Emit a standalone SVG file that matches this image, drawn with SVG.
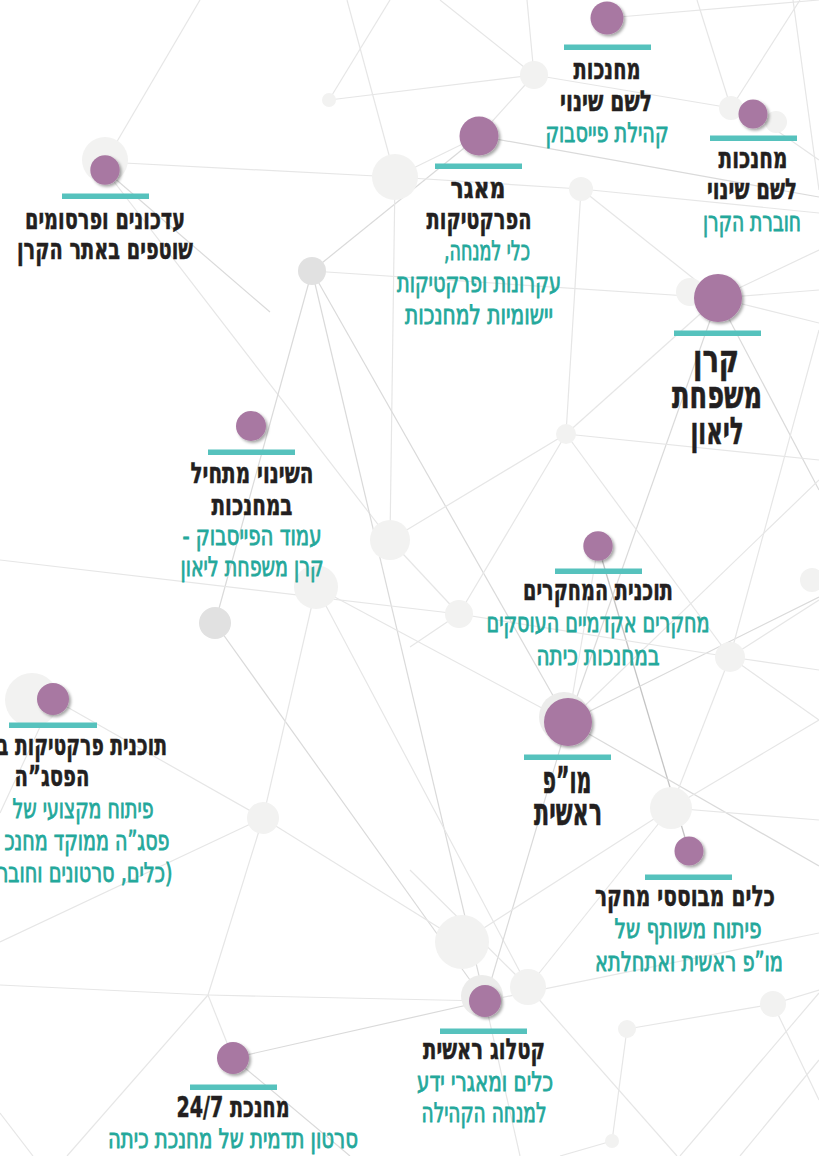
<svg xmlns="http://www.w3.org/2000/svg" width="819" height="1156" viewBox="0 0 819 1156">
<defs>
<filter id="sh" x="-40%" y="-40%" width="180%" height="180%">
<feDropShadow dx="2" dy="2" stdDeviation="1.6" flood-color="#000" flood-opacity="0.35"/>
</filter>
<style>
.ln{stroke:#e6e6e6;stroke-width:1.2;fill:none}
.ld{stroke:#dadada;stroke-width:1.2;fill:none}
.lx{stroke:#c4c4c4;stroke-width:1.3;fill:none}
.bg{fill:#f2f2f1}
.bd{fill:#e1e1e1}
.hl{fill:#ececeb}
.dot{fill:#a878a2;filter:url(#sh)}
.bar{fill:#56c2bd}
text{font-family:"DejaVu Sans Condensed","DejaVu Sans",sans-serif;direction:rtl;text-anchor:middle}
.k{font-weight:bold;font-size:29px;fill:#231f20;stroke:#231f20;stroke-width:0.5}
.g{font-weight:bold;font-size:38px;fill:#231f20;stroke:#231f20;stroke-width:0.6}
.c{font-weight:normal;font-size:27px;fill:#24a89b;stroke:#24a89b;stroke-width:0.8}
</style>
</defs>
<rect width="819" height="1156" fill="#ffffff"/>
<g id="connectors">
<line class="ln" x1="329" y1="100" x2="390" y2="0"/>
<line class="ln" x1="329" y1="100" x2="534" y2="75"/>
<line class="ln" x1="105" y1="162" x2="200" y2="0"/>
<line class="ln" x1="105" y1="162" x2="395" y2="177"/>
<line class="ln" x1="347" y1="0" x2="395" y2="177"/>
<line class="ld" x1="312" y1="271" x2="479" y2="136"/>
<line class="ln" x1="312" y1="271" x2="718" y2="298"/>
<line class="ln" x1="395" y1="177" x2="390" y2="540"/>
<line class="ld" x1="105" y1="170" x2="270" y2="312"/>
<line class="ln" x1="105" y1="170" x2="390" y2="540"/>
<line class="ld" x1="312" y1="271" x2="215" y2="623"/>
<line class="ld" x1="312" y1="271" x2="485" y2="1001"/>
<line class="ld" x1="312" y1="271" x2="568" y2="722"/>
<line class="ld" x1="215" y1="623" x2="485" y2="1001"/>
<line class="ln" x1="316" y1="587" x2="263" y2="818"/>
<line class="ln" x1="316" y1="587" x2="568" y2="722"/>
<line class="ln" x1="316" y1="587" x2="528" y2="987"/>
<line class="ln" x1="263" y1="818" x2="0" y2="942"/>
<line class="ln" x1="263" y1="818" x2="208" y2="995"/>
<line class="ln" x1="208" y1="995" x2="0" y2="985"/>
<line class="ln" x1="208" y1="995" x2="485" y2="1001"/>
<line class="ln" x1="208" y1="995" x2="233" y2="1058"/>
<line class="ln" x1="208" y1="995" x2="67" y2="1156"/>
<line class="ln" x1="263" y1="818" x2="462" y2="942"/>
<line class="ln" x1="53" y1="699" x2="263" y2="818"/>
<line class="ln" x1="53" y1="699" x2="0" y2="813"/>
<line class="ln" x1="0" y1="1113" x2="33" y2="1156"/>
<line class="ld" x1="233" y1="1058" x2="485" y2="1001"/>
<line class="ld" x1="233" y1="1058" x2="350" y2="1156"/>
<line class="ld" x1="485" y1="1001" x2="568" y2="722"/>
<line class="ln" x1="485" y1="1001" x2="819" y2="933"/>
<line class="ln" x1="528" y1="987" x2="677" y2="1156"/>
<line class="ln" x1="485" y1="1001" x2="520" y2="1156"/>
<line class="ln" x1="627" y1="1029" x2="773" y2="1004"/>
<line class="ln" x1="627" y1="1029" x2="612" y2="1141"/>
<line class="ln" x1="773" y1="1004" x2="819" y2="990"/>
<line class="ln" x1="773" y1="1004" x2="819" y2="1100"/>
<line class="ln" x1="819" y1="993" x2="680" y2="1156"/>
<line class="ln" x1="612" y1="1141" x2="560" y2="1156"/>
<line class="ln" x1="819" y1="1060" x2="740" y2="1156"/>
<line class="ln" x1="534" y1="75" x2="527" y2="0"/>
<line class="ln" x1="534" y1="75" x2="731" y2="108"/>
<line class="ln" x1="534" y1="75" x2="479" y2="136"/>
<line class="ln" x1="534" y1="75" x2="440" y2="0"/>
<line class="ln" x1="607" y1="18" x2="819" y2="0"/>
<line class="ld" x1="479" y1="136" x2="819" y2="197"/>
<line class="ln" x1="395" y1="177" x2="581" y2="189"/>
<line class="ln" x1="395" y1="177" x2="479" y2="136"/>
<line class="ln" x1="581" y1="189" x2="566" y2="434"/>
<line class="ln" x1="581" y1="189" x2="819" y2="213"/>
<line class="ln" x1="581" y1="189" x2="718" y2="298"/>
<line class="ln" x1="731" y1="108" x2="800" y2="0"/>
<line class="ln" x1="731" y1="108" x2="697" y2="0"/>
<line class="ln" x1="793" y1="0" x2="819" y2="190"/>
<line class="ln" x1="753" y1="114" x2="819" y2="160"/>
<line class="ln" x1="718" y1="298" x2="566" y2="434"/>
<line class="ld" x1="718" y1="298" x2="568" y2="722"/>
<line class="ld" x1="718" y1="298" x2="819" y2="490"/>
<line class="ln" x1="718" y1="298" x2="819" y2="323"/>
<line class="ln" x1="718" y1="298" x2="819" y2="290"/>
<line class="ln" x1="718" y1="298" x2="819" y2="250"/>
<line class="ln" x1="566" y1="434" x2="819" y2="460"/>
<line class="ln" x1="566" y1="434" x2="459" y2="614"/>
<line class="ln" x1="566" y1="434" x2="730" y2="657"/>
<line class="ln" x1="566" y1="434" x2="390" y2="540"/>
<line class="ln" x1="390" y1="540" x2="459" y2="614"/>
<line class="ln" x1="459" y1="614" x2="410" y2="647"/>
<line class="lx" x1="598" y1="546" x2="689" y2="851"/>
<line class="ld" x1="568" y1="722" x2="819" y2="597"/>
<line class="ld" x1="568" y1="722" x2="819" y2="866"/>
<line class="ln" x1="568" y1="722" x2="598" y2="546"/>
<line class="ln" x1="459" y1="614" x2="730" y2="657"/>
<line class="ln" x1="730" y1="657" x2="819" y2="600"/>
<line class="ln" x1="730" y1="657" x2="819" y2="720"/>
<line class="ln" x1="730" y1="657" x2="819" y2="670"/>
<line class="ln" x1="730" y1="657" x2="671" y2="808"/>
<line class="ln" x1="730" y1="657" x2="819" y2="330"/>
<line class="ln" x1="819" y1="720" x2="671" y2="808"/>
<line class="ln" x1="819" y1="480" x2="568" y2="722"/>
<line class="ln" x1="671" y1="808" x2="462" y2="942"/>
<line class="ln" x1="671" y1="808" x2="528" y2="987"/>
<line class="ln" x1="671" y1="808" x2="819" y2="820"/>
<line class="ln" x1="459" y1="614" x2="0" y2="560"/>
<line class="ln" x1="410" y1="870" x2="528" y2="987"/>
</g>
<g id="background-dots">
<circle class="bg" cx="329" cy="100" r="7"/>
<circle class="bg" cx="395" cy="177" r="23"/>
<circle class="bd" cx="312" cy="271" r="14"/>
<circle class="bg" cx="105" cy="160" r="23"/>
<circle class="bg" cx="534" cy="75" r="14"/>
<circle class="bg" cx="581" cy="189" r="12"/>
<circle class="bg" cx="731" cy="108" r="12"/>
<circle class="bg" cx="776" cy="122" r="11"/>
<circle class="bg" cx="690" cy="292" r="14"/>
<circle class="bg" cx="566" cy="434" r="10"/>
<circle class="bg" cx="390" cy="540" r="20"/>
<circle class="bg" cx="316" cy="587" r="22"/>
<circle class="bd" cx="215" cy="623" r="16"/>
<circle class="bg" cx="263" cy="818" r="16"/>
<circle class="bg" cx="459" cy="614" r="14"/>
<circle class="bg" cx="730" cy="657" r="15"/>
<circle class="bg" cx="671" cy="808" r="21"/>
<circle class="bg" cx="812" cy="580" r="12"/>
<circle class="bg" cx="32" cy="700" r="27"/>
<circle class="bg" cx="462" cy="942" r="27"/>
<circle class="bg" cx="528" cy="987" r="18"/>
<circle class="bg" cx="773" cy="1004" r="13"/>
<circle class="bg" cx="627" cy="1029" r="9"/>
<circle class="bg" cx="612" cy="1141" r="7"/>
<circle class="hl" cx="564" cy="717" r="25"/>
<circle class="hl" cx="482" cy="996" r="21"/>
</g>
<g id="node-facebook-community">
<circle class="dot" cx="607" cy="18" r="16.5"/>
<rect class="bar" x="564" y="44.5" width="87" height="5.5"/>
<text class="k" x="607" y="79" textLength="67" lengthAdjust="spacingAndGlyphs">מחנכות</text>
<text class="k" x="606" y="111" textLength="92" lengthAdjust="spacingAndGlyphs">לשם שינוי</text>
<text class="c" x="607" y="142" textLength="123" lengthAdjust="spacingAndGlyphs">קהילת פייסבוק</text>
</g>
<g id="node-booklet">
<circle class="dot" cx="753" cy="114" r="14.5"/>
<rect class="bar" x="710" y="135.5" width="87" height="5.5"/>
<text class="k" x="753" y="168" textLength="69" lengthAdjust="spacingAndGlyphs">מחנכות</text>
<text class="k" x="752" y="199" textLength="90" lengthAdjust="spacingAndGlyphs">לשם שינוי</text>
<text class="c" x="752" y="231" textLength="98" lengthAdjust="spacingAndGlyphs">חוברת הקרן</text>
</g>
<g id="node-practices">
<circle class="dot" cx="479" cy="136" r="19.5"/>
<rect class="bar" x="435" y="163.5" width="87" height="5.5"/>
<text class="k" x="478" y="198" textLength="55" lengthAdjust="spacingAndGlyphs">מאגר</text>
<text class="k" x="479" y="229" textLength="105" lengthAdjust="spacingAndGlyphs">הפרקטיקות</text>
<text class="c" x="487" y="260" textLength="86" lengthAdjust="spacingAndGlyphs">כלי למנחה,</text>
<text class="c" x="479" y="292" textLength="164" lengthAdjust="spacingAndGlyphs">עקרונות ופרקטיקות</text>
<text class="c" x="479" y="324" textLength="148" lengthAdjust="spacingAndGlyphs">יישומיות למחנכות</text>
</g>
<g id="node-leon-foundation">
<circle class="dot" cx="718" cy="298" r="24"/>
<rect class="bar" x="674" y="330.5" width="87" height="5.5"/>
<text class="g" x="716" y="372" textLength="46" lengthAdjust="spacingAndGlyphs">קרן</text>
<text class="g" x="717" y="408" textLength="90" lengthAdjust="spacingAndGlyphs">משפחת</text>
<text class="g" x="717" y="444" textLength="53" lengthAdjust="spacingAndGlyphs">ליאון</text>
</g>
<g id="node-updates">
<circle class="dot" cx="105" cy="170" r="14.7"/>
<rect class="bar" x="62" y="193.5" width="87" height="5.5"/>
<text class="k" x="105" y="229" textLength="160" lengthAdjust="spacingAndGlyphs">עדכונים ופרסומים</text>
<text class="k" x="105" y="259" textLength="176" lengthAdjust="spacingAndGlyphs">שוטפים באתר הקרן</text>
</g>
<g id="node-change-starts">
<circle class="dot" cx="251" cy="426" r="15"/>
<rect class="bar" x="208" y="449.5" width="87" height="5.5"/>
<text class="k" x="252" y="483" textLength="123" lengthAdjust="spacingAndGlyphs">השינוי מתחיל</text>
<text class="k" x="252" y="515" textLength="81" lengthAdjust="spacingAndGlyphs">במחנכות</text>
<text class="c" x="252" y="545" textLength="139" lengthAdjust="spacingAndGlyphs">עמוד הפייסבוק -</text>
<text class="c" x="252" y="576" textLength="143" lengthAdjust="spacingAndGlyphs">קרן משפחת ליאון</text>
</g>
<g id="node-research">
<circle class="dot" cx="598" cy="546" r="14.7"/>
<rect class="bar" x="555" y="568.5" width="87" height="5.5"/>
<text class="k" x="598" y="600" textLength="150" lengthAdjust="spacingAndGlyphs">תוכנית המחקרים</text>
<text class="c" x="598" y="632" textLength="223" lengthAdjust="spacingAndGlyphs">מחקרים אקדמיים העוסקים</text>
<text class="c" x="598" y="665" textLength="123" lengthAdjust="spacingAndGlyphs">במחנכות כיתה</text>
</g>
<g id="node-rd-reshit">
<circle class="dot" cx="568" cy="722" r="24"/>
<rect class="bar" x="524" y="754.5" width="87" height="5.5"/>
<text class="g" x="567" y="793" textLength="49" lengthAdjust="spacingAndGlyphs">מו”פ</text>
<text class="g" x="568" y="825" textLength="68" lengthAdjust="spacingAndGlyphs">ראשית</text>
</g>
<g id="node-research-tools">
<circle class="dot" cx="689" cy="851" r="14.5"/>
<rect class="bar" x="645" y="874.5" width="87" height="5.5"/>
<text class="k" x="685" y="906" textLength="180" lengthAdjust="spacingAndGlyphs">כלים מבוססי מחקר</text>
<text class="c" x="688" y="938" textLength="147" lengthAdjust="spacingAndGlyphs">פיתוח משותף של</text>
<text class="c" x="689" y="971" textLength="188" lengthAdjust="spacingAndGlyphs">מו”פ ראשית ואתחלתא</text>
</g>
<g id="node-catalog">
<circle class="dot" cx="485" cy="1001" r="16"/>
<rect class="bar" x="440" y="1028.5" width="87" height="5.5"/>
<text class="k" x="484" y="1059" textLength="122" lengthAdjust="spacingAndGlyphs">קטלוג ראשית</text>
<text class="c" x="485" y="1091" textLength="136" lengthAdjust="spacingAndGlyphs">כלים ומאגרי ידע</text>
<text class="c" x="484" y="1122" textLength="125" lengthAdjust="spacingAndGlyphs">למנחה הקהילה</text>
</g>
<g id="node-educator-247">
<circle class="dot" cx="233" cy="1058" r="16"/>
<rect class="bar" x="190" y="1084.5" width="87" height="5.5"/>
<text class="k" x="233" y="1117" textLength="113" lengthAdjust="spacingAndGlyphs">מחנכת 24/7</text>
<text class="c" x="233" y="1148" textLength="250" lengthAdjust="spacingAndGlyphs">סרטון תדמית של מחנכת כיתה</text>
</g>
<g id="node-psagot-practices">
<circle class="dot" cx="53" cy="699" r="16"/>
<rect class="bar" x="9" y="722.5" width="88" height="5.5"/>
<text class="k" x="82" y="755" textLength="170" lengthAdjust="spacingAndGlyphs">תוכנית פרקטיקות ב</text>
<text class="k" x="52" y="786" textLength="75" lengthAdjust="spacingAndGlyphs">הפסג”ה</text>
<text class="c" x="83" y="818" textLength="141" lengthAdjust="spacingAndGlyphs">פיתוח מקצועי של</text>
<text class="c" x="87" y="850" textLength="165" lengthAdjust="spacingAndGlyphs">פסג”ה ממוקד מחנכ</text>
<text class="c" x="85" y="882" textLength="175" lengthAdjust="spacingAndGlyphs">(כלים, סרטונים וחובר</text>
</g>
</svg>
